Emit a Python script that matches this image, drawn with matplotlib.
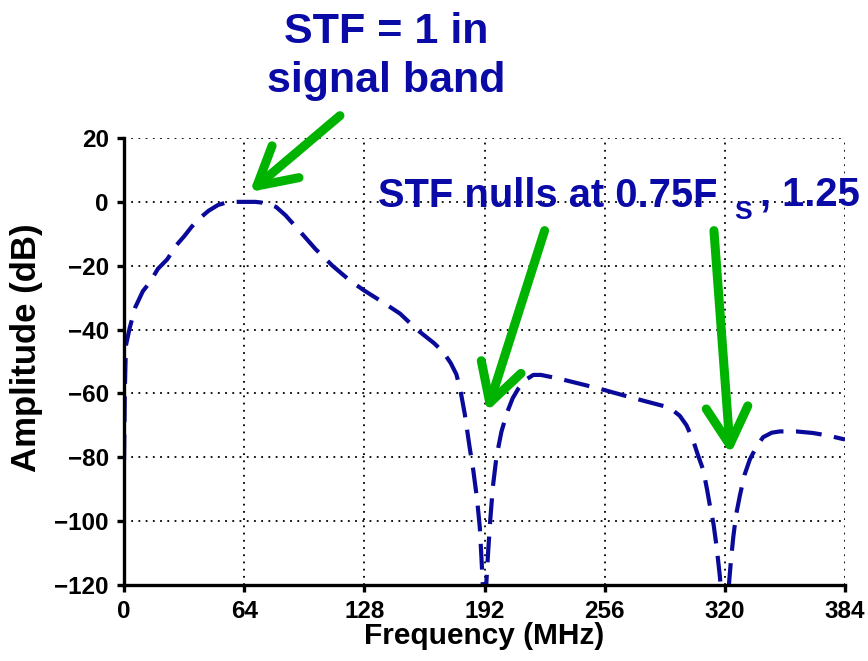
import matplotlib
matplotlib.use("Agg")
import matplotlib.pyplot as plt

plt.rcParams['font.family'] = ['Liberation Sans', 'DejaVu Sans']
plt.rcParams['font.weight'] = 'bold'

# ---- data ----
freq_mhz = [0, 0.4, 1, 3, 6, 10, 14, 18, 23, 28, 32, 36, 40, 45, 50, 55, 60, 64, 70,
            76, 81, 86, 93, 102, 111, 120, 128, 138, 147, 156, 165, 170, 174, 177,
            179, 181.5, 184, 186, 188, 189.5, 190.5, 191.5, 192, 192.5, 193, 194,
            195, 196.5, 198.4, 201, 204, 207, 210, 214, 218, 222, 227, 234, 245,
            255, 266, 278, 289, 293, 296, 299.6, 303, 305.5, 308.5, 310.5, 312,
            314, 315.6, 317.3, 318.5, 320, 321.5, 322.3, 323.3, 324.5, 326, 328,
            330.5, 333.3, 337, 340.4, 345, 349.3, 358, 367, 375, 383, 384]
stf_db = [-81, -60, -45, -39.5, -33, -28, -25, -21, -18, -13.5, -10.8, -7.8, -5.3,
          -2.8, -1, -0.1, 0, 0, 0, -0.4, -1.6, -4.2, -8.8, -14.8, -20, -24.5,
          -27.8, -31.5, -35, -40, -44.2, -47, -50.5, -54, -58.5, -66.5, -76.6, -84, -93,
          -102, -113, -125, -140, -130, -119, -109, -100, -89, -79.7, -72, -66,
          -61.5, -58.5, -55.7, -54.2, -54.2, -54.8, -55.7, -57.3, -58.8, -60.6,
          -62.5, -64.2, -65.6, -67, -70, -74.5, -79, -84, -90, -95, -101, -108,
          -117, -125, -140, -125, -119, -112, -105, -98, -92, -85.5, -80.7, -76.5,
          -73.7, -72.3, -71.9, -71.9, -72.4, -73.2, -74.3, -74.4]

x_ticks = [0, 64, 128, 192, 256, 320, 384]
y_ticks = [-120, -100, -80, -60, -40, -20, 0, 20]

x_label = "Frequency (MHz)"
y_label = "Amplitude (dB)"
note1_lines = ["STF = 1 in", "signal band"]
note2_parts = ["STF nulls at 0.75F", "S", ", 1.25"]

text_blue = "#0a0aa6"
line_blue = "#0a0a9a"
green = "#00b300"

fig = plt.figure(figsize=(8.68, 6.61), dpi=100)
ax = fig.add_axes([0.1429, 0.115, 0.8306, 0.6762])

ax.plot(freq_mhz, stf_db, color=line_blue, lw=3.0, dashes=(6.2, 3.0), zorder=3)

ax.set_xlim(0, 384)
ax.set_ylim(-120, 20)
ax.set_xticks(x_ticks)
ax.set_yticks(y_ticks)
ax.grid(True, color='black', linestyle=(0, (1, 3)), lw=1.3, zorder=1)
for s in ['top', 'right']:
    ax.spines[s].set_visible(False)
for s in ['left', 'bottom']:
    ax.spines[s].set_linewidth(2.4)
    ax.spines[s].set_zorder(4)
ax.tick_params(axis='both', direction='out', length=5, width=2.4,
               labelsize=17.5, pad=6)
for lab in ax.get_xticklabels() + ax.get_yticklabels():
    lab.set_fontweight('bold')
ax.set_xlabel(x_label, fontsize=21.5, fontweight='bold', labelpad=-1)
ax.set_ylabel(y_label, fontsize=25, fontweight='bold')
ax.yaxis.set_label_coords(-0.113, 0.53)

# annotations
ax.text(139.5, 49.8, note1_lines[0], ha='center', va='baseline', fontsize=31,
        fontweight='bold', color=text_blue, clip_on=False)
ax.text(139.5, 34.5, note1_lines[1], ha='center', va='baseline', fontsize=31,
        fontweight='bold', color=text_blue, clip_on=False)
t_main = ax.text(135.3, -1.5, note2_parts[0], ha='left', va='baseline', fontsize=28.7,
                 fontweight='bold', color=text_blue, clip_on=False, zorder=5)
t_sub = ax.annotate(note2_parts[1], xy=(1, 0), xycoords=t_main,
                    xytext=(12, -3.2), textcoords='offset points',
                    ha='left', va='baseline', fontsize=19, fontweight='bold',
                    color=text_blue, annotation_clip=False, zorder=5)
ax.annotate(note2_parts[2], xy=(1, 0), xycoords=t_sub,
            xytext=(6, 13.6), textcoords='offset points',
            ha='left', va='baseline', fontsize=28.7, fontweight='bold',
            color=text_blue, annotation_clip=False, zorder=5)

arrow_kw = dict(arrowstyle='->,head_length=1.35,head_width=0.75', lw=6.5,
                color=green, mutation_scale=20, shrinkA=0, shrinkB=0,
                capstyle='round', joinstyle='round')
ax.annotate('', xy=(67, 3.1), xytext=(115, 27), arrowprops=arrow_kw,
            annotation_clip=False, zorder=6)
ax.annotate('', xy=(193.3, -65.7), xytext=(224, -9), arrowprops=arrow_kw,
            annotation_clip=False, zorder=6)
ax.annotate('', xy=(323, -79), xytext=(314.2, -9), arrowprops=arrow_kw,
            annotation_clip=False, zorder=6)

fig.savefig("out.png", dpi=100)
